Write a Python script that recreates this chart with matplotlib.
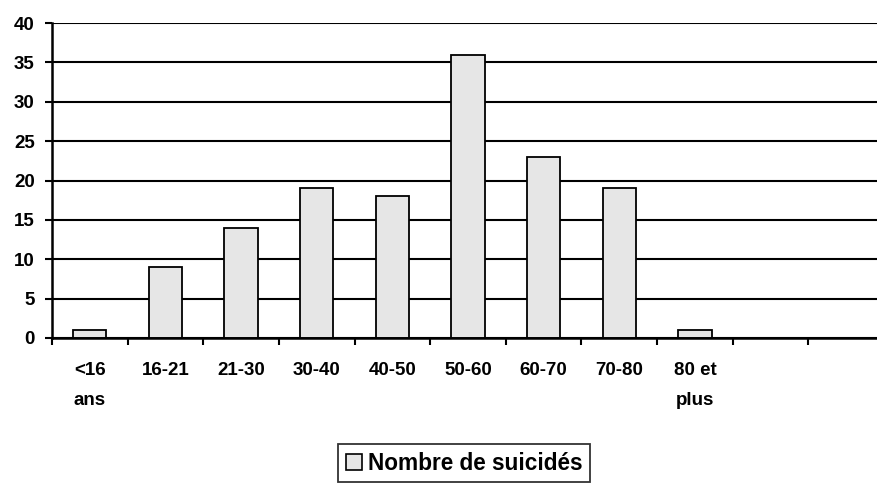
import matplotlib
matplotlib.use("Agg")
import matplotlib.pyplot as plt
from matplotlib.patches import Patch

categories = ["<16\nans", "16-21", "21-30", "30-40", "40-50", "50-60", "60-70", "70-80", "80 et\nplus", "", ""]
values = [1, 9, 14, 19, 18, 36, 23, 19, 1, 0, 0]
yticks = [0, 5, 10, 15, 20, 25, 30, 35, 40]
series_name = "Nombre de suicidés"

plt.rcParams['font.family'] = ['Liberation Sans', 'DejaVu Sans']
plt.rcParams['font.weight'] = 'bold'

W, H = 877, 484
fig = plt.figure(figsize=(W / 100, H / 100), dpi=100)
left, right, top, bottom = 52, 884, 23, 338
ax = fig.add_axes([left / W, 1 - bottom / H, (right - left) / W, (bottom - top) / H])

x = list(range(len(categories)))
vals_drawn = [v if v > 0 else float('nan') for v in values]
ax.bar(x, vals_drawn, width=0.44, color="#E6E6E6", edgecolor="black", linewidth=1.3, zorder=3)

ax.set_xlim(-0.5, len(categories) - 0.5)
ax.set_ylim(0, 40)
ax.set_yticks(yticks)
ax.set_yticklabels([str(t) for t in yticks], fontsize=13.5, fontweight='bold')
ax.yaxis.grid(True, color="black", linewidth=1.5, zorder=1)
ax.set_axisbelow(True)

ax.set_xticks([i - 0.5 for i in range(len(categories) + 1)])
ax.set_xticklabels([])
ax.set_xticks(x, minor=True)
ax.set_xticklabels(categories, minor=True, fontsize=13.5, fontweight='bold', linespacing=2.05, va='top')
ax.tick_params(axis='x', which='minor', length=0, pad=17)
ax.tick_params(axis='x', which='major', length=5, width=1.5, direction='out')
ax.tick_params(axis='y', length=5, width=1.5, pad=7.5)

for s in ['top', 'right']:
    ax.spines[s].set_visible(False)
for s in ['left', 'bottom']:
    ax.spines[s].set_linewidth(1.8)
    ax.spines[s].set_color('black')
    ax.spines[s].set_zorder(4)

handle = Patch(facecolor="#E6E6E6", edgecolor="black", linewidth=1.2)
leg = fig.legend([handle], [series_name], loc='center', bbox_to_anchor=(464 / W, 1 - 463 / H),
                 frameon=True, fancybox=False, prop={'size': 16.3, 'weight': 'bold'},
                 handlelength=0.7, handleheight=0.7, handletextpad=0.25, borderpad=0.35,
                 borderaxespad=0)
leg.get_frame().set_edgecolor('black')
leg.get_frame().set_linewidth(1.3)

fig.savefig("out.png", dpi=100)
